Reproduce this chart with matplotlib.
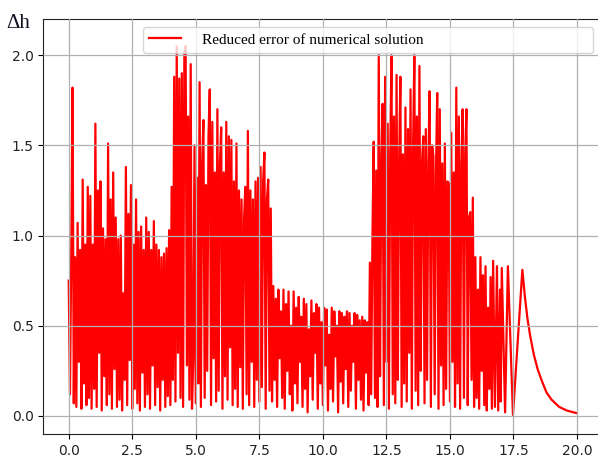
#!/usr/bin/env python3
import numpy as np
import matplotlib
matplotlib.use('Agg')
import matplotlib.pyplot as pl

###values
#uniform time grid 0.00 .. 16.65, step 0.05
dt=0.05
err_dense=[
 0.75,0.12,0.90,1.82,0.07,0.88,0.05,1.07,0.30,0.92,0.04,1.31,0.18,0.95,0.06,1.27,0.10,1.22,0.04,0.95,
 0.15,1.62,0.05,1.25,0.35,1.30,0.03,1.04,0.22,0.98,0.06,1.51,0.12,1.20,0.04,1.35,0.26,1.10,0.05,0.98,
 0.09,1.00,0.03,0.68,0.20,1.38,0.06,1.12,0.31,1.28,0.04,0.95,0.15,1.20,0.07,1.02,0.03,1.05,0.24,0.92,
 0.05,1.10,0.12,1.02,0.04,0.92,0.28,1.08,0.06,0.95,0.16,0.92,0.03,0.88,0.20,0.90,0.05,0.93,0.11,1.03,
 0.06,1.27,0.20,1.88,0.08,2.05,0.35,1.87,0.10,1.90,0.05,2.01,2.05,0.28,1.66,0.09,1.95,0.04,0.30,1.50,
 0.07,1.32,0.18,1.85,0.05,1.40,1.64,0.10,1.28,0.25,1.55,1.81,0.06,1.63,0.32,1.35,0.08,1.70,0.14,1.40,
 1.60,0.04,1.35,0.22,1.63,0.09,1.55,0.38,1.53,0.06,1.30,0.15,1.51,0.05,1.25,0.27,1.20,0.04,1.10,1.27,
 0.12,1.58,0.06,1.25,0.30,1.20,0.05,1.30,0.20,1.32,0.08,1.38,0.16,1.30,1.46,0.04,1.20,1.31,0.14,1.15,
 0.08,0.72,0.20,0.65,0.05,0.70,0.32,0.58,0.10,0.70,0.04,0.62,0.25,0.69,0.12,0.50,0.03,0.69,0.18,0.60,
 0.07,0.66,0.30,0.55,0.05,0.65,0.15,0.62,0.02,0.48,0.22,0.64,0.09,0.57,0.35,0.62,0.04,0.60,0.18,0.52,
 0.06,0.60,0.28,0.59,0.03,0.45,0.15,0.60,0.08,0.58,0.33,0.50,0.02,0.58,0.19,0.57,0.07,0.55,0.26,0.58,
 0.05,0.57,0.14,0.50,0.30,0.57,0.04,0.56,0.20,0.53,0.09,0.55,0.03,0.53,0.24,0.52,0.06,0.85,0.12,0.98,
 1.52,0.10,1.36,0.05,2.00,0.22,1.40,1.73,0.06,1.88,0.30,1.62,0.04,1.45,2.00,0.12,1.66,0.07,1.89,0.20,
 1.40,1.88,0.05,1.45,0.18,1.71,0.08,1.59,0.35,1.81,0.04,1.50,2.00,0.14,1.66,0.06,1.94,0.25,1.40,1.55,
 0.07,1.59,0.20,1.40,1.80,0.05,1.50,1.44,0.12,1.35,1.79,0.04,1.70,0.28,1.40,0.06,1.51,0.15,1.30,1.29,
 0.08,1.57,0.30,1.35,0.05,1.82,0.18,1.66,0.04,1.40,1.70,0.10,1.45,1.70,0.06,1.10,1.13,0.20,1.21,0.05,
 0.88,0.10,0.70,0.04,0.88,0.25,0.78,0.06,0.83,0.03,0.60,0.15,0.77,0.04]

#sparse spikes and the smooth decay at the end
t_tail=[16.70,16.77,16.85,16.90,16.97,17.00,17.04,17.17,17.28,17.48,17.85,17.95,18.05,18.15,18.30,18.45,18.60,18.80,19.00,19.30,19.60,20.00]
err_tail=[0.86,0.05,0.83,0.03,0.70,0.08,0.82,0.02,0.83,0.005,0.81,0.66,0.54,0.45,0.34,0.26,0.20,0.13,0.09,0.05,0.03,0.015]

t_dense=np.round(np.arange(len(err_dense))*dt,2)
t=np.concatenate([t_dense,t_tail])
err=np.concatenate([err_dense,err_tail])

xticks=[0.0,2.5,5.0,7.5,10.0,12.5,15.0,17.5,20.0]
yticks=[0.0,0.5,1.0,1.5,2.0]

#############
fig=pl.figure(figsize=(5.98,4.59),dpi=100)
#right edge of the frame lies outside the picture, as in the cropped original
ax=fig.add_axes([0.0724,0.0545,0.935,0.904])

ax.plot(t,err,color='red',lw=1.6,label='Reduced error of numerical solution')

ax.set_xlim(-1,21)
ax.set_ylim(-0.1,2.2)
ax.set_xticks(xticks)
ax.set_yticks(yticks)
ax.tick_params(labelsize=10,labelcolor='#222222')
ax.grid(True,color='#b0b0b0',lw=0.9)
ax.set_axisbelow(False)
for s in ax.spines.values():
    s.set_color('#222222')

leg=ax.legend(loc='upper left',bbox_to_anchor=(0.178,0.913,0.805,0.068),mode='expand',
              borderaxespad=0,handlelength=2.1,handletextpad=1.4,
              prop={'family':'Liberation Serif','size':11})

fig.text(6/598,1-28/459,'\u0394h',family='Liberation Serif',fontsize=15,color='#111122',va='baseline')

pl.savefig('out.png',dpi=100)
pl.close()
